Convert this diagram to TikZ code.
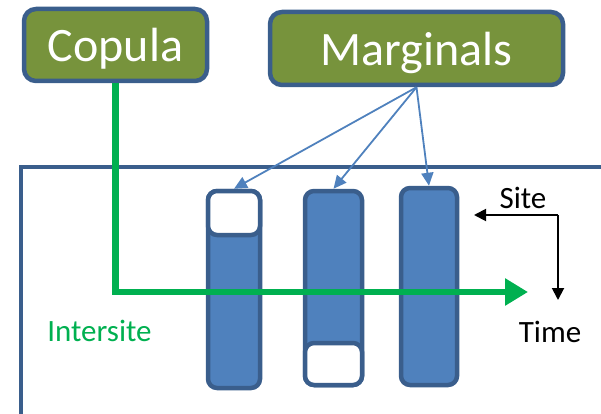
\documentclass[tikz,border=0pt]{standalone}
\usepackage{fontspec}
\setmainfont{Carlito}
\usetikzlibrary{arrows.meta, positioning}
\definecolor{cnavy}{HTML}{3A5E8C}
\definecolor{cblue}{HTML}{4F81BD}
\definecolor{colive}{HTML}{77933C}
\definecolor{cgreen}{HTML}{00B050}
\tikzset{
  every picture/.style={x=1pt, y=-1pt},
  titlebox/.style={draw=cnavy, fill=colive, line width=4.5pt, rounded corners=12pt, text=white, font=\fontsize{48}{50}\selectfont, inner sep=0pt, text depth=0pt},
  bar/.style={draw=cnavy, fill=cblue, line width=4.5pt, rounded corners=9pt, inner sep=0pt, minimum width=#1},
  slot/.style={draw=cnavy, fill=white, line width=4.5pt, rounded corners=9pt, inner sep=0pt, minimum width=#1},
  frame/.style={draw=cnavy, line width=3.5pt},
  link/.style={-{Triangle[length=13pt, width=12pt]}, draw=cblue, line width=1.8pt},
  flow/.style={-{Triangle[length=23pt, width=26pt]}, draw=cgreen, line width=6.5pt},
  axis/.style={-{Triangle[length=12pt, width=12pt]}, draw=black, line width=1.9pt},
  label/.style={font=\fontsize{31}{34}\selectfont, inner sep=0pt},
}
\begin{document}
\begin{tikzpicture}
  \useasboundingbox (0,0) rectangle (601,414);
  \draw[frame] (21,414) -- (21,167) -- (601,167);
  % the three series
  \node[bar=52pt, minimum height=197pt] (bar1) at (234,289.5) {};
  \node[bar=57pt, minimum height=194pt] (bar2) at (333.5,288) {};
  \node[bar=56pt, minimum height=197pt] (bar3) at (429,286.5) {};
  \node[slot=52pt, minimum height=44pt] (gap1) at (234,213) {};
  \node[slot=57pt, minimum height=42pt] (gap2) at (333.5,364) {};
  \node[titlebox, minimum width=183pt, minimum height=72pt] (copula) at (115.5,45) {Copula};
  \node[titlebox, minimum width=293pt, minimum height=73pt] (marg) at (416.5,48.5) {Marginals};
  \foreach \n in {gap1,bar2,bar3} \draw[link] (marg.south) -- (\n.north);
  % dependence path
  \coordinate (flowend) at (528,292);
  \draw[flow] (copula.south) |- (flowend);
  \node[label, text=cgreen] (inter) at (99.5,331) {Intersite};
  % axes
  \coordinate (corner) at (558,215);
  \coordinate (sitend) at (474,215);
  \coordinate (timend) at (558,300);
  \draw[axis] (corner) -- (sitend);
  \draw[axis] (corner) -- (timend);
  \node[label] (site) at (523,198) {Site};
  \node[label] (time) at (550,332) {Time};
\end{tikzpicture}
\end{document}
